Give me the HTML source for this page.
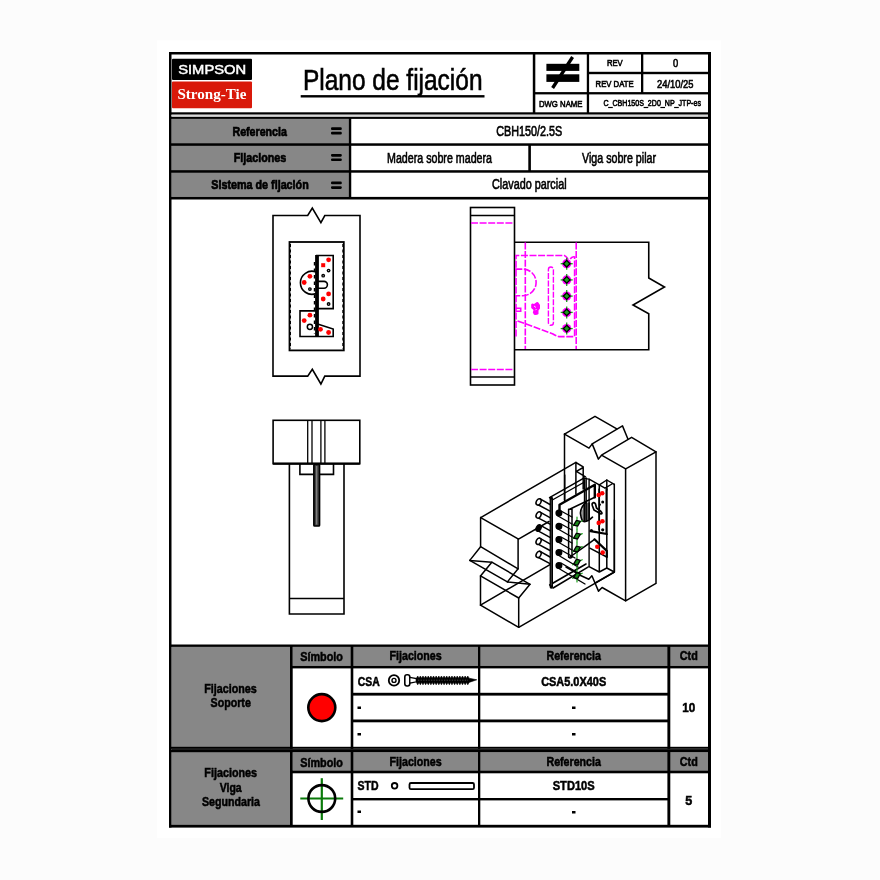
<!DOCTYPE html>
<html><head><meta charset="utf-8">
<style>
html,body{margin:0;padding:0;background:#fff;width:880px;height:880px;overflow:hidden}
svg{position:absolute;left:0;top:0;display:block;will-change:transform}
text{font-family:"Liberation Sans",sans-serif}
.b{font-weight:bold;stroke:#000;stroke-width:0.55}
.r{stroke:#000;stroke-width:0.6}
</style></head><body>
<svg width="880" height="880" viewBox="0 0 880 880">
<!-- page bg -->
<rect x="0" y="0" width="880" height="880" fill="#fcfcfc"/>
<rect x="157" y="40.5" width="564" height="797.5" fill="#fff"/>

<!-- gray fills -->
<g fill="#878787">
<rect x="171.5" y="118.9" width="177.3" height="78"/>
<rect x="171.5" y="646.9" width="118.5" height="178"/>
<rect x="292.7" y="646.9" width="415.3" height="19"/>
<rect x="292.7" y="752.2" width="415.3" height="18.3"/>
</g>

<!-- frame lines -->
<g fill="#000">
<rect x="169" y="52" width="542" height="2.5"/>
<rect x="169" y="52" width="2.5" height="775.5"/>
<rect x="708" y="52" width="3" height="775.5"/>
<rect x="169" y="824.8" width="542" height="2.8"/>
<!-- header -->
<rect x="169" y="112.3" width="542" height="2.4"/>
<rect x="169" y="116.6" width="542" height="2.3"/>
<rect x="532.8" y="52" width="2.5" height="61"/>
<rect x="586.8" y="52" width="2.3" height="61"/>
<rect x="641" y="52" width="2.3" height="41"/>
<rect x="535" y="92.1" width="175" height="2.3"/>
<rect x="589" y="71.8" width="120" height="2.4"/>
<!-- info rows -->
<rect x="169" y="143.3" width="542" height="2.5"/>
<rect x="169" y="170.2" width="542" height="2.5"/>
<rect x="169" y="196.9" width="542" height="2.6"/>
<rect x="348.75" y="118" width="2.5" height="81"/>
<rect x="528.3" y="145" width="2.6" height="26"/>
<!-- bottom table -->
<rect x="169" y="644.5" width="542" height="2.4"/>
<rect x="290" y="646" width="2.7" height="181"/>
<rect x="350.7" y="646" width="2.6" height="181"/>
<rect x="478" y="646" width="2.3" height="181"/>
<rect x="667.4" y="646" width="2.9" height="181"/>
<rect x="292" y="665.9" width="418" height="2.5"/>
<rect x="353" y="692.8" width="315" height="2.8"/>
<rect x="353" y="719.5" width="315" height="2.8"/>
<rect x="169" y="746.8" width="542" height="2"/>
<rect x="169" y="750" width="542" height="2.2"/>
<rect x="292" y="770.5" width="418" height="2.8"/>
<rect x="353" y="798" width="315" height="2.4"/>
</g>
<rect x="171.5" y="748.8" width="536.5" height="1.2" fill="#1c1c1c"/>
<rect x="171.5" y="114.7" width="536.5" height="1.9" fill="#d8d8d8"/>

<!-- logo -->
<rect x="172" y="58.7" width="80" height="21.2" fill="#000" rx="1"/>
<rect x="172" y="81.5" width="80" height="26.8" fill="#d9190a" rx="1"/>
<text x="212.2" y="74.2" fill="#fff" stroke="#fff" stroke-width="0.5" font-size="13.6" text-anchor="middle" textLength="68" lengthAdjust="spacingAndGlyphs">SIMPSON</text>
<text x="211.9" y="99" fill="#fff" font-size="15" font-weight="bold" text-anchor="middle" style="font-family:'Liberation Serif',serif" textLength="69" lengthAdjust="spacingAndGlyphs">Strong-Tie</text>

<!-- title -->
<text x="303" y="90.3" font-size="28.6" stroke="#000" stroke-width="0.6" textLength="179.5" lengthAdjust="spacingAndGlyphs">Plano de fijación</text>
<rect x="300.7" y="95.1" width="183.8" height="2.4" fill="#000"/>

<!-- not-equal symbol -->
<rect x="546.4" y="63.8" width="32.9" height="7.1" fill="#000"/>
<rect x="546.4" y="74.3" width="32.9" height="7.6" fill="#000"/>
<line x1="552.6" y1="88" x2="572.6" y2="57" stroke="#000" stroke-width="3.3"/>

<g font-size="9.2" class="r">
<text x="614.8" y="66.2" text-anchor="middle" textLength="15.8" lengthAdjust="spacingAndGlyphs">REV</text>
<text x="614.6" y="86.9" text-anchor="middle" textLength="38" lengthAdjust="spacingAndGlyphs">REV DATE</text>
<text x="560.7" y="107.3" text-anchor="middle" textLength="43.5" font-size="9.5" lengthAdjust="spacingAndGlyphs">DWG NAME</text>
</g>
<text x="675.5" y="67.4" font-size="11" text-anchor="middle" class="r" textLength="5.2" lengthAdjust="spacingAndGlyphs">0</text>
<text x="675.3" y="87.7" font-size="11.5" class="r" text-anchor="middle" textLength="36.5" lengthAdjust="spacingAndGlyphs">24/10/25</text>
<text x="652.2" y="106.1" font-size="9.5" class="r" text-anchor="middle" textLength="97.5" lengthAdjust="spacingAndGlyphs">C_CBH150S_2D0_NP_JTP-es</text>

<!-- info rows text -->
<g class="b" font-size="13.6" style="stroke-width:0.7">
<text x="259.7" y="136" text-anchor="middle" textLength="54.5" lengthAdjust="spacingAndGlyphs">Referencia</text>
<text x="260" y="162.4" text-anchor="middle" textLength="52.5" lengthAdjust="spacingAndGlyphs">Fijaciones</text>
<text x="260" y="188.8" text-anchor="middle" textLength="97.5" lengthAdjust="spacingAndGlyphs">Sistema de fijación</text>
</g>
<g fill="#000">
<rect x="331" y="127.3" width="10.8" height="2.7" rx="1.1"/><rect x="331" y="131.8" width="10.8" height="2.7" rx="1.1"/>
<rect x="331" y="154.0" width="10.8" height="2.7" rx="1.1"/><rect x="331" y="158.4" width="10.8" height="2.7" rx="1.1"/>
<rect x="331" y="181.6" width="10.8" height="2.7" rx="1.1"/><rect x="331" y="186.2" width="10.8" height="2.7" rx="1.1"/>
</g>
<g font-size="13.8" class="r">
<text x="529.3" y="136.1" text-anchor="middle" textLength="66" lengthAdjust="spacingAndGlyphs">CBH150/2.5S</text>
<text x="439.5" y="162.6" text-anchor="middle" textLength="105" lengthAdjust="spacingAndGlyphs">Madera sobre madera</text>
<text x="619" y="162.6" text-anchor="middle" textLength="74" lengthAdjust="spacingAndGlyphs">Viga sobre pilar</text>
<text x="529.3" y="188.6" text-anchor="middle" textLength="74.5" lengthAdjust="spacingAndGlyphs">Clavado parcial</text>
</g>

<!-- bottom table text -->
<g class="b" font-size="13.6">
<text x="230.5" y="693.2" text-anchor="middle" textLength="52.5" lengthAdjust="spacingAndGlyphs">Fijaciones</text>
<text x="230.7" y="707.2" text-anchor="middle" textLength="40.3" lengthAdjust="spacingAndGlyphs">Soporte</text>
<text x="321.6" y="661" text-anchor="middle" textLength="42.8" lengthAdjust="spacingAndGlyphs">Símbolo</text>
<text x="415.6" y="660.1" text-anchor="middle" textLength="52.2" lengthAdjust="spacingAndGlyphs">Fijaciones</text>
<text x="573.7" y="660.1" text-anchor="middle" textLength="54.5" lengthAdjust="spacingAndGlyphs">Referencia</text>
<text x="688.8" y="660.1" text-anchor="middle" textLength="18" lengthAdjust="spacingAndGlyphs">Ctd</text>
<text x="368.7" y="685.7" text-anchor="middle" textLength="22" lengthAdjust="spacingAndGlyphs">CSA</text>
<text x="573.7" y="685.7" text-anchor="middle" textLength="65" lengthAdjust="spacingAndGlyphs">CSA5.0X40S</text>
<text x="688.8" y="712" text-anchor="middle" textLength="13" lengthAdjust="spacingAndGlyphs">10</text>

<text x="230.7" y="776.6" text-anchor="middle" textLength="52.8" lengthAdjust="spacingAndGlyphs">Fijaciones</text>
<text x="230.7" y="791.9" text-anchor="middle" textLength="22" lengthAdjust="spacingAndGlyphs">Viga</text>
<text x="231" y="806.1" text-anchor="middle" textLength="58" lengthAdjust="spacingAndGlyphs">Segundaria</text>
<text x="321.6" y="766.5" text-anchor="middle" textLength="42.8" lengthAdjust="spacingAndGlyphs">Símbolo</text>
<text x="415.6" y="765.5" text-anchor="middle" textLength="52.2" lengthAdjust="spacingAndGlyphs">Fijaciones</text>
<text x="573.7" y="765.5" text-anchor="middle" textLength="54.5" lengthAdjust="spacingAndGlyphs">Referencia</text>
<text x="688.8" y="765.5" text-anchor="middle" textLength="18" lengthAdjust="spacingAndGlyphs">Ctd</text>
<text x="368" y="790.1" text-anchor="middle" textLength="21" lengthAdjust="spacingAndGlyphs">STD</text>
<text x="573.7" y="790.1" text-anchor="middle" textLength="42" lengthAdjust="spacingAndGlyphs">STD10S</text>
<text x="688.8" y="805" text-anchor="middle" textLength="7" lengthAdjust="spacingAndGlyphs">5</text>
</g>
<g fill="#000">
<rect x="357.5" y="706.5" width="3.5" height="2.5"/>
<rect x="357.5" y="733" width="3.5" height="2.5"/>
<rect x="357.5" y="810.5" width="3.5" height="2.5"/>
<rect x="572" y="706.5" width="3.5" height="2.5"/>
<rect x="572" y="733" width="3.5" height="2.5"/>
<rect x="572" y="811" width="3.5" height="2.5"/>
</g>

<!-- symbols -->
<circle cx="321.8" cy="707.6" r="13.5" fill="#f00" stroke="#000" stroke-width="2.6"/>
<g stroke="#0a7a0a" stroke-width="2.2"><line x1="300.3" y1="798.5" x2="343.2" y2="798.5"/><line x1="321.8" y1="778.2" x2="321.8" y2="820"/></g>
<circle cx="321.8" cy="798.5" r="13.4" fill="none" stroke="#000" stroke-width="2.6"/>

<!-- CSA screw -->
<circle cx="394" cy="680.4" r="5.2" fill="none" stroke="#000" stroke-width="1.8"/>
<circle cx="394" cy="680.4" r="2" fill="none" stroke="#000" stroke-width="1.4"/>
<!-- CSA screw drawing -->
<rect x="404.8" y="674.8" width="5" height="11.2" rx="2.2" fill="none" stroke="#000" stroke-width="1.6"/>
<path d="M409.8,677.4 L416.4,678.6 V681.8 L409.8,683.2 Z" fill="#fff" stroke="#000" stroke-width="1.3"/>
<path d="M416.4,678.2  L417.72,676 L419.03,678.2 L420.35,676 L421.67,678.2 L422.99,676 L424.30,678.2 L425.62,676 L426.94,678.2 L428.26,676 L429.57,678.2 L430.89,676 L432.21,678.2 L433.53,676 L434.84,678.2 L436.16,676 L437.48,678.2 L438.80,676 L440.11,678.2 L441.43,676 L442.75,678.2 L444.07,676 L445.38,678.2 L446.70,676 L448.02,678.2 L449.34,676 L450.65,678.2 L451.97,676 L453.29,678.2 L454.61,676 L455.92,678.2 L457.24,676 L458.56,678.2 L459.88,676 L461.19,678.2 L462.51,676 L463.83,678.2 L465.15,676 L466.46,678.2 L467.78,676 L469.10,678.2 L476.8,679.8 L469.1,682.4 L467.78,684.8 L466.47,682.4 L465.15,684.8 L463.83,682.4 L462.51,684.8 L461.20,682.4 L459.88,684.8 L458.56,682.4 L457.24,684.8 L455.93,682.4 L454.61,684.8 L453.29,682.4 L451.97,684.8 L450.66,682.4 L449.34,684.8 L448.02,682.4 L446.70,684.8 L445.39,682.4 L444.07,684.8 L442.75,682.4 L441.43,684.8 L440.12,682.4 L438.80,684.8 L437.48,682.4 L436.16,684.8 L434.85,682.4 L433.53,684.8 L432.21,682.4 L430.89,684.8 L429.58,682.4 L428.26,684.8 L426.94,682.4 L425.62,684.8 L424.31,682.4 L422.99,684.8 L421.67,682.4 L420.35,684.8 L419.04,682.4 L417.72,684.8 L416.40,682.4 Z" fill="#000" stroke="#000" stroke-width="0.6" stroke-linejoin="round"/>
<path d="M418,680.2 H468" stroke="#555" stroke-width="0.8" stroke-dasharray="1.3,1.3"/>
<!-- STD nail -->
<circle cx="394.6" cy="785.8" r="2.8" fill="none" stroke="#000" stroke-width="1.8"/>
<rect x="409.5" y="783" width="64.5" height="6.2" rx="1.5" fill="none" stroke="#000" stroke-width="1.8"/>

<!-- DRAWINGS -->
<g id="drawings" fill="none" stroke="#000" stroke-width="1.6" stroke-linejoin="miter">

<!-- drawing 1 -->
<path d="M273,215.5 H307.7 L312.3,208 L320.9,222.7 L324.8,215.5 H360 V376.1 H324.8 L320.9,384 L312.3,369.3 L307.7,376.1 H273 Z"/>
<rect x="289.5" y="242" width="54.3" height="108.4" stroke-width="1.8"/>
<g stroke-dasharray="3,2.5" stroke-width="1.4"><line x1="290.3" y1="244" x2="290.3" y2="349"/><line x1="343" y1="244" x2="343" y2="349"/></g>
<g stroke-width="1.6">
<path d="M316,255.5 H333.2 V308.6 H316"/>
<path d="M316,272 A11.5,11.5 0 1 0 316,293.5"/>
<path d="M316,281.4 H324 A3.4,3.4 0 0 1 324,288.2 H316"/>
<path d="M316,310.9 H300 V336.5 H333.2 V329.1 L316,323.4"/>
</g>
<line x1="317" y1="255" x2="317" y2="336.5" stroke-width="3.8"/>
<g stroke-width="1.4" stroke-dasharray="3.5,3"><line x1="314.5" y1="262" x2="314.5" y2="334"/></g>
<g fill="#f00" stroke="none">
<circle cx="328.6" cy="259.8" r="2.4"/><rect x="321.2" y="263.2" width="4" height="4"/>
<circle cx="328.6" cy="293.9" r="2.4"/><circle cx="323.2" cy="299" r="2.4"/>
<circle cx="309.9" cy="276.3" r="2.4"/><circle cx="304.2" cy="282.5" r="2.4"/>
<circle cx="309.9" cy="315.2" r="2.4"/><circle cx="304.2" cy="320.6" r="2.4"/>
<circle cx="320.5" cy="329.3" r="2.4"/><circle cx="328.6" cy="332.5" r="2.4"/>
</g>
<g fill="#000" stroke="none">
<circle cx="328.6" cy="270.6" r="1.9"/><circle cx="323.2" cy="275.7" r="1.9"/><circle cx="328.6" cy="304" r="1.9"/><circle cx="309.9" cy="289.1" r="1.9"/>
<g fill="#fff"><circle cx="328.6" cy="270.6" r="0.5"/><circle cx="323.2" cy="275.7" r="0.5"/><circle cx="328.6" cy="304" r="0.5"/><circle cx="309.9" cy="289.1" r="0.5"/></g>
</g>
<circle cx="309.9" cy="326.8" r="2.6" stroke-width="1.5"/>

<!-- drawing 2 -->
<rect x="470.5" y="207.5" width="44" height="177.5"/>
<line x1="470.5" y1="215.5" x2="514.5" y2="215.5"/>
<line x1="470.5" y1="377" x2="514.5" y2="377"/>
<path d="M514.5,242.3 H648.75 V278 L664.5,287 L633,305 L648.75,313.75 V349.7 H514.5"/>
<g stroke="#f0f" stroke-width="1.6" stroke-dasharray="7,1.6">
<line x1="471" y1="223" x2="514" y2="223"/>
<line x1="471" y1="369.5" x2="514" y2="369.5"/>
<line x1="525.3" y1="242.5" x2="525.3" y2="349"/>
<line x1="576.2" y1="242.5" x2="576.2" y2="349"/>
<path d="M516,336.6 V255.5 H564.3 Q566,256 568,259 M570.2,258.9 Q573,256 574.6,257 V336.6 H558.9 Q556,336 553,334 L516,320.3"/>
<path d="M515.3,269.1 H522.8 A13.3,13.3 0 0 1 522.8,295.7 H515.3"/>
<path d="M548.4,269.5 A2.5,2.5 0 0 1 553.4,269.5 V322.8 A2.5,2.5 0 0 1 548.4,322.8 Z" stroke-dasharray="6,1.5" stroke-width="1.4"/>
<path d="M515.3,308.3 H520.7 V311.3 H515.3" stroke-dasharray="none"/>
</g>
<path d="M531.2,304.5 Q532,303 534,304 L536.5,302.2 Q538,301.8 539,303.5 L540,305 V308.5 L538.5,310.5 V314 Q537,315.2 534,314.8 L532.8,312.5 L533.5,310 L531.2,308 Z" fill="#f0f" stroke="none"/><path d="M534,306 L536,307.5 M535.5,310.2 L536.5,309" stroke="#fff" stroke-width="0.8"/>
<g id="gd">
<g transform="translate(566.7,263.7)"><circle r="4.6" fill="#f0f" stroke="none"/><line x1="-6" y1="0" x2="6" y2="0" stroke="#1a9e1a" stroke-width="1.3"/><line x1="0" y1="-6" x2="0" y2="6" stroke="#1a9e1a" stroke-width="1.3"/><path d="M0,-3.3 L3.3,0 L0,3.3 L-3.3,0Z" fill="#1a9e1a" stroke="#000" stroke-width="1.3"/></g>
<g transform="translate(566.7,279.9)"><circle r="4.6" fill="#f0f" stroke="none"/><line x1="-6" y1="0" x2="6" y2="0" stroke="#1a9e1a" stroke-width="1.3"/><line x1="0" y1="-6" x2="0" y2="6" stroke="#1a9e1a" stroke-width="1.3"/><path d="M0,-3.3 L3.3,0 L0,3.3 L-3.3,0Z" fill="#1a9e1a" stroke="#000" stroke-width="1.3"/></g>
<g transform="translate(566.7,296.1)"><circle r="4.6" fill="#f0f" stroke="none"/><line x1="-6" y1="0" x2="6" y2="0" stroke="#1a9e1a" stroke-width="1.3"/><line x1="0" y1="-6" x2="0" y2="6" stroke="#1a9e1a" stroke-width="1.3"/><path d="M0,-3.3 L3.3,0 L0,3.3 L-3.3,0Z" fill="#1a9e1a" stroke="#000" stroke-width="1.3"/></g>
<g transform="translate(566.7,312.4)"><circle r="4.6" fill="#f0f" stroke="none"/><line x1="-6" y1="0" x2="6" y2="0" stroke="#1a9e1a" stroke-width="1.3"/><line x1="0" y1="-6" x2="0" y2="6" stroke="#1a9e1a" stroke-width="1.3"/><path d="M0,-3.3 L3.3,0 L0,3.3 L-3.3,0Z" fill="#1a9e1a" stroke="#000" stroke-width="1.3"/></g>
<g transform="translate(566.7,328.6)"><circle r="4.6" fill="#f0f" stroke="none"/><line x1="-6" y1="0" x2="6" y2="0" stroke="#1a9e1a" stroke-width="1.3"/><line x1="0" y1="-6" x2="0" y2="6" stroke="#1a9e1a" stroke-width="1.3"/><path d="M0,-3.3 L3.3,0 L0,3.3 L-3.3,0Z" fill="#1a9e1a" stroke="#000" stroke-width="1.3"/></g>
</g>


<!-- drawing 4 iso -->
<g id="iso" stroke-width="1.5" stroke-linejoin="round" stroke-linecap="round">
<!-- post top face with break -->
<path d="M564.5,434.1 L595,416.3 L616.8,428.8"/>
<path d="M564.5,434.1 L589,448.1 L592.2,443.9 L622.5,425.9 L628,439.3"/>
<path d="M592.2,443.9 L598.4,459.1 L601.5,455.2 L631.6,437.3 L656,451.8 L625.7,468.9 L601.5,455.2"/>
<path d="M656,451.8 V583.4 L625.6,600.8 V468.9"/>
<path d="M625.6,600.8 L602.1,587.5 L598.5,591.1 L591.9,575.7 L588.8,579.3 L580.1,575.2 L566,567"/>
<path d="M564.5,434.1 V500"/>
<!-- beam -->
<path d="M480.7,517.6 L575.9,462.3"/>
<path d="M480.7,517.6 L518.5,539.2 L549,521.5"/>
<path d="M480.6,517.6 V546.7 L469.8,560.4 L491.8,562.2 L480.5,575.9 V605.2 L518.7,627.3 V598 L530,584.3 L507.4,581.9 L518.1,568.8 V539.2"/>
<path d="M480.6,546.7 L518.1,568.8 M469.8,560.4 L507.4,581.9 M491.8,562.2 L530,584.3 M480.5,575.9 L518.7,598"/>
<path d="M480.5,605.2 L550,564.6"/>
<path d="M518.7,627.3 L614.4,572.1 V520"/>
<!-- back flange members -->
<path d="M575.9,462.5 V494 M575.9,462.5 L583.2,466.8 V489 M576.4,471.4 L583.2,467.5 M576.4,471.4 L585.5,476.8"/>
<path d="M549.5,497.7 L583.4,478.4 M552.3,500 L584.5,482" stroke-width="1.4"/>
<path d="M583.4,478.4 L589.1,479.1 L605,488.2 M605,488.2 L612,484 M599.3,484.8 L606.8,480 L614.3,484.3 M584.5,478 V521 M586.2,478 V521 M589.1,479 V566.6" stroke-width="1.4"/>
<!-- post plate box verticals -->
<path d="M599.3,484.8 V572 M606.8,480 V490 M614.3,484.3 V572 L595.2,583 M589.1,566.6 L599.3,572 L606.8,568 L614.3,572 M606.8,533.9 V568" stroke-width="1.5"/>
<path d="M606.6,489 V534 M590.5,531.1 L606.8,534" stroke-width="2.2"/>
<path d="M594.5,539.3 L606.8,550.9 V557" stroke-width="2.2"/>
<path d="M589.8,548.2 L606.8,557 M594.5,539.3 L587,544.8 L570,557" stroke-width="1.5"/>
<path d="M598.75,489 V530" stroke-width="0.9"/>
<!-- thick front plate -->
<path d="M559.5,510 V504.7 L594.8,484.8 V497.3" stroke-width="2.4"/>
<path d="M594.8,497.3 L568.6,509.8 M568.6,509.3 V557 M572,509.3 V557 M568.6,509.3 H572 M564.7,475 V500.7" stroke-width="1.5"/>
<!-- half disc with hatch -->
<path d="M585.7,502.4 Q579.5,509 580.6,514.4 Q581.5,521.8 584.5,521.75 Q588,521.5 592.5,517.2 M589.1,503 V520" stroke-width="1.6"/>
<path d="M582,510 V519 M583.4,506 V521 M584.8,503.5 V521.5 M586.2,503 V521 M587.6,503 V520.5" stroke-width="0.7"/>
<path d="M592.2,503.6 Q594,501.5 595.5,504 L596.5,508 L601,511.5 Q603,513.5 601,514 L594,510 L592.5,506 Q592,504.5 592.2,503.6Z" stroke-width="1.7"/>
<!-- screw dark column plate -->
<path d="M551.3,498.3 V587" stroke-width="3.4"/><path d="M553.1,588 L588,567.1 M549.7,585 L586,564" stroke-width="1.6"/><path d="M551.3,500 V585" stroke="#666" stroke-width="0.6"/>
<path d="M568.6,557 Q570.3,559 572,557" stroke-width="1.4"/>
<!-- screws left -->
<g stroke-width="1.5">
<path d="M539.6,498.7 L550,504.5 M537.6,504.5 L550,511.09999999999997"/><ellipse cx="538.6" cy="501.9" rx="2.3" ry="3.3" transform="rotate(28 538.6 501.9)" fill="#fff"/>
<path d="M539.6,511.8 L550,517.6 M537.6,517.6 L550,524.2"/><ellipse cx="538.6" cy="515.0" rx="2.3" ry="3.3" transform="rotate(28 538.6 515.0)" fill="#fff"/>
<path d="M539.6,524.9 L550,530.7 M537.6,530.7 L550,537.3000000000001"/><ellipse cx="538.6" cy="528.1" rx="2.3" ry="3.3" transform="rotate(28 538.6 528.1)" fill="#000"/>
<path d="M539.6,538.0999999999999 L550,543.9 M537.6,543.9 L550,550.5"/><ellipse cx="538.6" cy="541.3" rx="2.3" ry="3.3" transform="rotate(28 538.6 541.3)" fill="#fff"/>
<path d="M539.6,551.1999999999999 L550,557.0 M537.6,557.0 L550,563.6"/><ellipse cx="538.6" cy="554.4" rx="2.3" ry="3.3" transform="rotate(28 538.6 554.4)" fill="#fff"/>
</g>
<!-- screw heads right -->
<g stroke-width="1.4">
<circle cx="558.9" cy="513.1" r="2.8" fill="#000"/><path d="M558,516 L572,524 M561,511 L572,517"/>
<circle cx="558.9" cy="526.3" r="2.8" fill="#000"/><path d="M558,529 L572,537 M561,524 L572,530"/>
<circle cx="558.9" cy="539.4" r="2.8" fill="#000"/><path d="M558,542 L572,550 M561,537 L572,543"/>
<circle cx="558.9" cy="552.5" r="2.8" fill="#000"/><path d="M558,555 L578,567 M561,550 L575,558"/>
<circle cx="558.9" cy="565.6" r="2.8" fill="#000"/><path d="M558,568 L585,584 M561,563 L580,574"/>
</g>
<g fill="#f00" stroke="none">
<circle cx="598.75" cy="495" r="2.3"/><circle cx="602.2" cy="493.3" r="2.3"/>
<circle cx="598.75" cy="522.9" r="2.3"/><circle cx="602.4" cy="521.2" r="2.3"/>
<circle cx="597.3" cy="546.8" r="2.3"/><circle cx="602.7" cy="552.6" r="2.3"/>
</g>
<g fill="#000" stroke="none">
<circle cx="602.7" cy="501.9" r="1.5"/><circle cx="599.9" cy="504.7" r="1.1"/><circle cx="602.7" cy="529.8" r="1.6"/><circle cx="591.4" cy="530.5" r="1.6"/>
</g>
<g stroke="#1a9e1a" stroke-width="1.2">
<path d="M577,517.1 V529.6" stroke-dasharray="2.2,1.2"/><path d="M572.6,525.9 L582.2,520.8000000000001"/><path d="M576.5,520.3000000000001 L580.3,521.4 L577.6,526.2 L573.6,525.2 Z" stroke="#000" stroke-width="1.3" fill="#1a8a1a"/>
<path d="M577,529.9 V542.4" stroke-dasharray="2.2,1.2"/><path d="M572.6,538.6999999999999 L582.2,533.6"/><path d="M576.5,533.1 L580.3,534.1999999999999 L577.6,539.0 L573.6,538.0 Z" stroke="#000" stroke-width="1.3" fill="#1a8a1a"/>
<path d="M577,542.9 V555.4" stroke-dasharray="2.2,1.2"/><path d="M572.6,551.6999999999999 L582.2,546.6"/><path d="M576.5,546.1 L580.3,547.1999999999999 L577.6,552.0 L573.6,551.0 Z" stroke="#000" stroke-width="1.3" fill="#1a8a1a"/>
<path d="M577,556.0 V568.5" stroke-dasharray="2.2,1.2"/><path d="M572.6,564.8 L582.2,559.7"/><path d="M576.5,559.2 L580.3,560.3 L577.6,565.1 L573.6,564.1 Z" stroke="#000" stroke-width="1.3" fill="#1a8a1a"/>
<path d="M577,569.5 V582.0" stroke-dasharray="2.2,1.2"/><path d="M572.6,578.3 L582.2,573.2"/><path d="M576.5,572.7 L580.3,573.8 L577.6,578.6 L573.6,577.6 Z" stroke="#000" stroke-width="1.3" fill="#1a8a1a"/>
</g>
</g>

<!-- drawing 3 -->
<rect x="273.1" y="420.3" width="86.7" height="43.4"/>
<g stroke-width="1.3"><line x1="307.7" y1="420.3" x2="307.7" y2="463.7"/><line x1="312" y1="420.3" x2="312" y2="463.7"/><line x1="320.9" y1="420.3" x2="320.9" y2="463.7"/><line x1="324.9" y1="420.3" x2="324.9" y2="463.7"/></g>
<path d="M289.4,463.7 V614 H344 V463.7"/>
<line x1="289.4" y1="598.5" x2="344" y2="598.5"/>
<path d="M313.6,474.4 H299.9 V463.7 M333.5,463.7 V474.4 H319.4"/>
<line x1="273.1" y1="463.7" x2="359.8" y2="463.7" stroke-width="2.2"/>
<rect x="313.9" y="464.5" width="5.6" height="61.5" rx="0.8" stroke-width="1.7" fill="#444"/>
<line x1="316.7" y1="466" x2="316.7" y2="524.5" stroke-width="0.6" stroke="#bbb"/>
</g>
</svg>
</body></html>
